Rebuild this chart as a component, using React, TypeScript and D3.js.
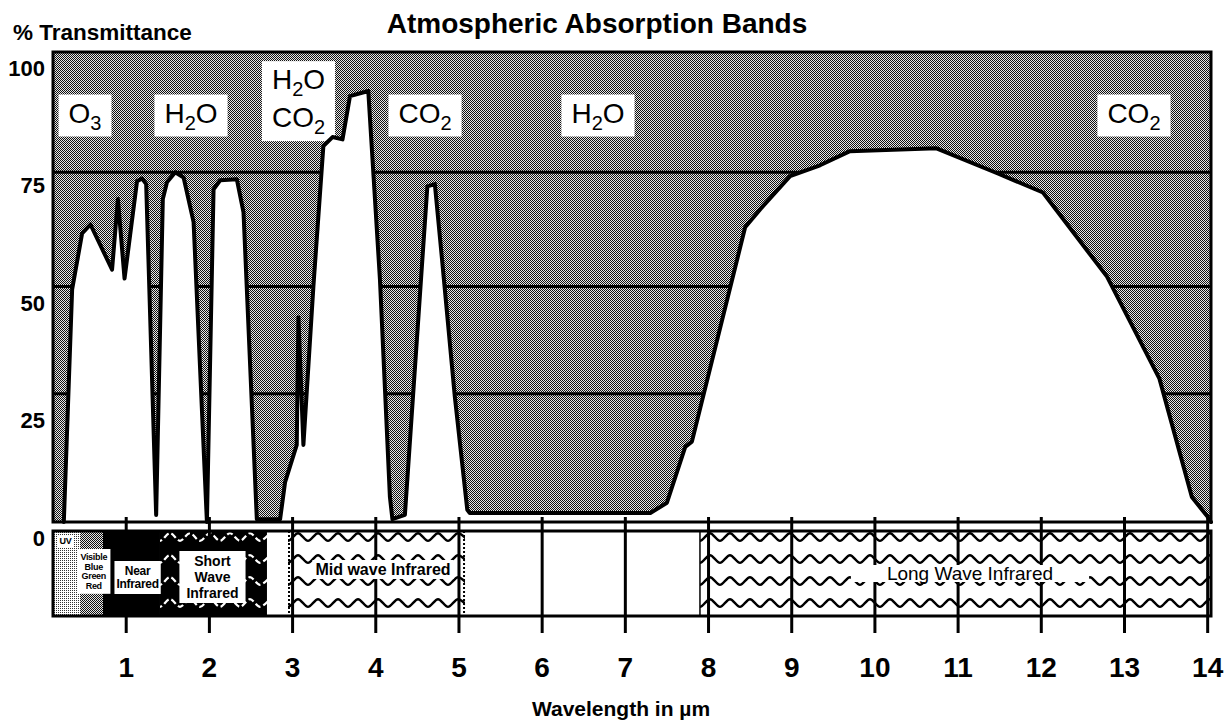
import React, { useEffect, useRef } from 'react';
import * as d3 from 'd3';

// ---- Data ----
const wavelengthUm = [0.25, 0.35, 0.47, 0.57, 0.83, 0.90, 0.98, 1.13, 1.19, 1.24, 1.36, 1.44, 1.49, 1.59, 1.69, 1.81, 1.97, 2.05, 2.13, 2.33, 2.41, 2.57, 2.85, 2.91, 3.05, 3.07, 3.13, 3.25, 3.37, 3.48, 3.60, 3.69, 3.91, 4.05, 4.17, 4.20, 4.35, 4.62, 4.71, 4.80, 4.95, 5.10, 5.13, 7.30, 7.50, 7.72, 7.80, 8.44, 8.62, 8.98, 9.34, 9.70, 10.74, 11.47, 12.02, 12.79, 13.42, 13.81, 14.00, 14.04];
const transmittancePct = [0, 49.5, 61.4, 63.3, 53.7, 68.7, 51.8, 72.5, 73.1, 71.9, 1.5, 68.7, 72.3, 74.4, 73.3, 63.8, 0, 70.8, 72.7, 72.9, 65.9, 0.6, 0.6, 8.5, 16.4, 43.5, 16.4, 50.1, 80.0, 81.9, 81.4, 90.6, 91.7, 51.6, 5.3, 0.6, 1.5, 71.4, 71.9, 55.2, 26.7, 2.6, 1.9, 1.9, 4.1, 16.0, 17.1, 62.7, 66.5, 73.6, 75.9, 78.9, 79.5, 74.2, 70.1, 52.2, 30.5, 5.3, 1.1, 0];

const xTickValues = [1, 2, 3, 4, 5, 6, 7, 8, 9, 10, 11, 12, 13, 14];
const xTickLabels = ['1', '2', '3', '4', '5', '6', '7', '8', '9', '10', '11', '12', '13', '14'];
const yTickValues = [0, 25, 50, 75, 100];
const yTickLabels = ['0', '25', '50', '75', '100'];
const bandLevelsPct = [74.4, 50.1, 27.3];

// gas labels ("_" marks a subscript digit)
const gasLabelLines = [['O_3'], ['H_2O'], ['H_2O', 'CO_2'], ['CO_2'], ['H_2O'], ['CO_2']];
const gasLabelWavelength = [0.505, 1.779, 3.071, 4.592, 6.671, 13.114];
const gasLabelLevel = [85, 85, 92.1, 85, 85, 85];

// spectral regions (µm)
const regionNames = ['UV', 'Visible', 'Near Infrared', 'Short Wave Infrared', 'Mid wave Infrared', 'Long Wave Infrared'];
const regionStart = [0.12, 0.445, 0.721, 1.406, 2.945, 7.897];
const regionEnd = [0.445, 0.721, 1.406, 2.692, 5.073, 14.04];
const regionLabelLines = [['UV'], ['Visible', 'Blue', 'Green', 'Red'], ['Near', 'Infrared'], ['Short', 'Wave', 'Infrared'], ['Mid wave Infrared'], ['Long Wave Infrared']];
const regionLabelCenter = [0.27, 0.61, 1.137, 2.037, 4.087, 11.143];

const FONT = "'Liberation Sans', Arial, Helvetica, sans-serif";

function addRich(text: any, str: string, fs: number, subFs: number, subDy: number) {
  const parts: { t: string; sub: boolean }[] = [];
  for (let i = 0; i < str.length; i++) {
    if (str[i] === '_') {
      parts.push({ t: str[i + 1], sub: true });
      i++;
    } else {
      const last = parts[parts.length - 1];
      if (last && !last.sub) last.t += str[i];
      else parts.push({ t: str[i], sub: false });
    }
  }
  let prevSub = false;
  parts.forEach((p) => {
    const ts = text.append('tspan').text(p.t).attr('font-size', p.sub ? subFs : fs);
    if (p.sub && !prevSub) ts.attr('dy', subDy);
    if (!p.sub && prevSub) ts.attr('dy', -subDy);
    prevSub = p.sub;
  });
}

export default function App() {
  const ref = useRef<SVGSVGElement>(null);

  useEffect(() => {
    const svg = d3.select(ref.current as SVGSVGElement);
    svg.selectAll('*').remove();

    const plot = { left: 53, right: 1211, top: 52, bottom: 522 };
    const band = { top: 531, bottom: 616 };
    const x = d3.scaleLinear().domain([0.12, 14.04]).range([plot.left, plot.right]);
    const y = d3.scaleLinear().domain([0, 100]).range([plot.bottom, plot.top]);

    const defs = svg.append('defs');
    const chk = defs.append('pattern').attr('id', 'chk').attr('patternUnits', 'userSpaceOnUse').attr('width', 2).attr('height', 2);
    chk.append('rect').attr('width', 2).attr('height', 2).attr('fill', '#e6e6e6');
    chk.append('rect').attr('width', 1).attr('height', 1).attr('fill', '#111');
    chk.append('rect').attr('x', 1).attr('y', 1).attr('width', 1).attr('height', 1).attr('fill', '#111');
    const dots = defs.append('pattern').attr('id', 'dots').attr('patternUnits', 'userSpaceOnUse').attr('width', 2).attr('height', 2);
    dots.append('rect').attr('width', 2).attr('height', 2).attr('fill', '#fff');
    dots.append('rect').attr('width', 1).attr('height', 1).attr('fill', '#333');

    // background (absorbed) pattern
    svg.append('rect')
      .attr('x', plot.left).attr('y', plot.top)
      .attr('width', plot.right - plot.left).attr('height', plot.bottom - plot.top)
      .attr('fill', 'url(#chk)');

    // band lines
    svg.append('g').selectAll('line').data(bandLevelsPct).join('line')
      .attr('x1', plot.left).attr('x2', plot.right)
      .attr('y1', (d) => y(d)).attr('y2', (d) => y(d))
      .attr('stroke', '#000').attr('stroke-width', 3);

    const pts: [number, number][] = wavelengthUm.map((w, i) => [w, transmittancePct[i]]);
    const area = d3.area<[number, number]>().x((d) => x(d[0])).y0(y(0)).y1((d) => y(d[1]));
    svg.append('path').attr('d', area(pts) as string).attr('fill', '#fff');

    // gas labels
    const gasG = svg.append('g').attr('font-family', FONT).attr('fill', '#000');
    gasLabelLines.forEach((lines, i) => {
      const g = gasG.append('g');
      const rect = g.append('rect').attr('fill', '#fff');
      const cx = x(gasLabelWavelength[i]);
      const y0 = y(gasLabelLevel[i]);
      lines.forEach((ln, j) => {
        const t = g.append('text').attr('x', cx).attr('y', y0 + j * 38).attr('text-anchor', 'middle');
        addRich(t, ln, 28, 20, 7);
      });
      const bb = (g.node() as SVGGElement).getBBox();
      rect.attr('x', bb.x - 10).attr('y', bb.y - 3).attr('width', bb.width + 20).attr('height', bb.height + 6);
    });

    // spectrum outline
    const line = d3.line<[number, number]>().x((d) => x(d[0])).y((d) => y(d[1]));
    svg.append('path').attr('d', line(pts) as string)
      .attr('fill', 'none').attr('stroke', '#000').attr('stroke-width', 4)
      .attr('stroke-linejoin', 'round').attr('stroke-linecap', 'round');

    // plot border
    svg.append('rect')
      .attr('x', plot.left).attr('y', plot.top)
      .attr('width', plot.right - plot.left).attr('height', plot.bottom - plot.top)
      .attr('fill', 'none').attr('stroke', '#000').attr('stroke-width', 3);

    // ---- spectral band strip ----
    const bandG = svg.append('g');
    bandG.append('rect').attr('x', plot.left).attr('y', band.top)
      .attr('width', plot.right - plot.left).attr('height', band.bottom - band.top).attr('fill', '#fff');

    const rx = (i: number) => x(regionStart[i]);
    const rw = (i: number) => x(regionEnd[i]) - x(regionStart[i]);
    const bh = band.bottom - band.top;

    bandG.append('rect').attr('x', rx(0)).attr('y', band.top).attr('width', rw(0)).attr('height', bh).attr('fill', 'url(#dots)');
    bandG.append('rect').attr('x', rx(1)).attr('y', band.top).attr('width', rw(1)).attr('height', bh).attr('fill', 'url(#chk)');
    bandG.append('rect').attr('x', rx(2)).attr('y', band.top).attr('width', rw(2)).attr('height', bh).attr('fill', '#000');
    bandG.append('rect').attr('x', rx(3)).attr('y', band.top).attr('width', rw(3)).attr('height', bh).attr('fill', '#000');

    const rowCenters = [537, 559, 581, 603];
    const wave = (x0: number, x1: number, cy: number) => {
      const p: [number, number][] = [];
      let k = 0;
      for (let xx = x0 - 10; xx <= x1 + 10; xx += 10, k++) p.push([xx, cy + (k % 2 === 0 ? -3.8 : 3.8)]);
      return d3.line().curve(d3.curveCatmullRom)(p) as string;
    };
    [3, 4, 5].forEach((ri) => {
      const cid = 'clip' + ri;
      defs.append('clipPath').attr('id', cid).append('rect')
        .attr('x', rx(ri)).attr('y', band.top).attr('width', rw(ri)).attr('height', bh);
      const wg = bandG.append('g').attr('clip-path', `url(#${cid})`);
      rowCenters.forEach((cy) => {
        wg.append('path').attr('d', wave(rx(ri), rx(ri) + rw(ri), cy))
          .attr('fill', 'none')
          .attr('stroke', ri === 3 ? '#fff' : '#000')
          .attr('stroke-width', ri === 3 ? 2.2 : 2.6)
          .attr('stroke-dasharray', ri === 3 ? '6 3' : null);
      });
    });
    // mid-wave dotted borders, long-wave left border
    [x(regionStart[4]) + 1, x(regionEnd[4]) - 1].forEach((xx) => {
      bandG.append('line').attr('x1', xx).attr('x2', xx).attr('y1', band.top).attr('y2', band.bottom)
        .attr('stroke', '#000').attr('stroke-width', 2).attr('stroke-dasharray', '2 2');
    });
    bandG.append('line').attr('x1', x(regionStart[5])).attr('x2', x(regionStart[5]))
      .attr('y1', band.top).attr('y2', band.bottom).attr('stroke', '#000').attr('stroke-width', 1.5);

    // ticks
    svg.append('g').selectAll('line').data(xTickValues).join('line')
      .attr('x1', (d) => x(d)).attr('x2', (d) => x(d))
      .attr('y1', 517).attr('y2', 633)
      .attr('stroke', '#000').attr('stroke-width', 3);

    // region labels
    const regStyle = [
      { fs: 9, lh: 9, base: 544, padX: 2, padY: 1, weight: 'bold' },
      { fs: 9, lh: 9.6, base: 560, padX: 3, padY: 3, weight: 'bold' },
      { fs: 12, lh: 13, base: 575, padX: 2, padY: 3, weight: 'bold' },
      { fs: 14, lh: 16, base: 566, padX: 7, padY: 2, weight: 'bold' },
      { fs: 16, lh: 16, base: 575, padX: 3, padY: 1, weight: 'bold' },
      { fs: 19, lh: 19, base: 580, padX: 36, padY: -2, weight: 'normal' },
    ];
    const labG = svg.append('g').attr('font-family', FONT);
    regionLabelLines.forEach((lines, i) => {
      const s = regStyle[i];
      const g = labG.append('g').attr('aria-label', regionNames[i]);
      const rect = g.append('rect').attr('fill', '#fff');
      const cx = x(regionLabelCenter[i]);
      lines.forEach((ln, j) => {
        g.append('text').attr('x', cx).attr('y', s.base + j * s.lh)
          .attr('text-anchor', 'middle').attr('font-size', s.fs).attr('font-weight', s.weight)
          .attr('letter-spacing', i <= 2 ? -0.3 : 0)
          .text(ln);
      });
      const bb = (g.node() as SVGGElement).getBBox();
      rect.attr('x', bb.x - s.padX).attr('y', bb.y - s.padY)
        .attr('width', bb.width + 2 * s.padX).attr('height', bb.height + 2 * s.padY);
    });

    // band frame
    svg.append('rect').attr('x', plot.left).attr('y', band.top)
      .attr('width', plot.right - plot.left).attr('height', bh)
      .attr('fill', 'none').attr('stroke', '#000').attr('stroke-width', 3);

    // axes text
    const txt = svg.append('g').attr('font-family', FONT).attr('fill', '#000');
    txt.selectAll('text.yt').data(yTickValues).join('text')
      .attr('class', 'yt')
      .attr('x', 45).attr('y', (d) => y(d) + 16)
      .attr('dominant-baseline', 'central')
      .attr('text-anchor', 'end').attr('font-size', 22).attr('font-weight', 'bold')
      .text((d, i) => yTickLabels[i]);
    txt.selectAll('text.xt').data(xTickValues).join('text')
      .attr('class', 'xt')
      .attr('x', (d) => x(d)).attr('y', 677)
      .attr('text-anchor', 'middle').attr('font-size', 28).attr('font-weight', 'bold')
      .text((d, i) => xTickLabels[i]);
    txt.append('text').attr('x', 597).attr('y', 33).attr('text-anchor', 'middle')
      .attr('font-size', 28).attr('font-weight', 'bold').text('Atmospheric Absorption Bands');
    txt.append('text').attr('x', 13).attr('y', 40)
      .attr('font-size', 22.5).attr('font-weight', 'bold').text('% Transmittance');
    txt.append('text').attr('x', 621).attr('y', 716).attr('text-anchor', 'middle')
      .attr('font-size', 21).attr('font-weight', 'bold').text('Wavelength in µm');
  }, []);

  return (
    <div style={{ position: 'absolute', left: 0, top: 0 }}>
      <svg ref={ref} width={1229} height={723} style={{ display: 'block', background: '#fff' }} />
    </div>
  );
}
